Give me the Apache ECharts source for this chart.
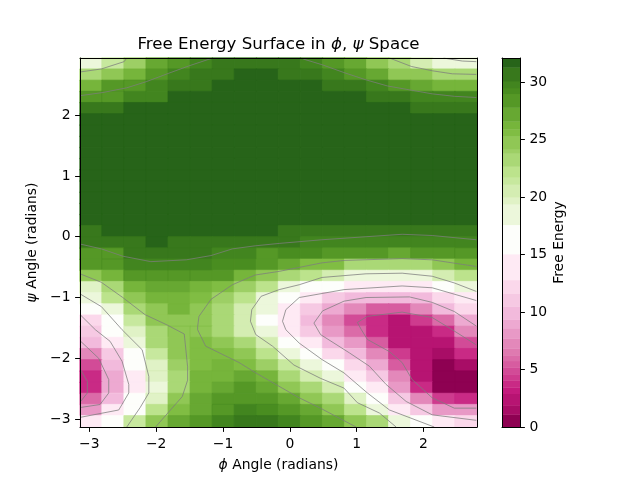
<!DOCTYPE html>
<html><head><meta charset="utf-8">
<style>html,body{margin:0;padding:0;background:#fff}#c{width:640px;height:480px}</style>
<script src="https://cdn.jsdelivr.net/npm/echarts@6/dist/echarts.min.js"></script>
</head><body><div id="c"></div>
<script>
// Free energy values, top row (psi high) first, left (phi low) to right
const row00=[19,21.5,24,27,29,30,30.5,30.5,31,30.7,29.8,28.5,27,24.5,23,20.5,19,19];
const row01=[23,24.5,26.5,28.5,29.8,30.7,30.7,32,32,30.7,30.7,29.8,28.5,27,25,24.3,23,23];
const row02=[26.5,28.5,29,29.8,30.7,30.7,32,32,32,32,32,30.7,30.7,29.8,28.5,27,26.5,26.5];
const row03=[29,29,30,30,32,32,32,32,32,32,32,32,32,30.7,30.7,29.8,29.8,29.8];
const row04=[30.7,30.7,32,32,32,32,32,32,32,32,32,32,32,32,32,30.7,30.7,30.7];
const row05=[32,32,32,32,32,32,32,32,32,32,32,32,32,32,32,32,32,32];
const row06=row05,row07=row05,row08=row05,row09=row05,row10=row05,row11=row05,row12=row05,row13=row05,row14=row05;
const row15=[30.7,32,32,32,32,32,32,32,32,30.7,30.7,30.7,30.7,30.7,30.7,30.7,30.7,30.7];
const row16=[30.7,30.7,30.7,32,30.7,30.7,30.7,30.7,30.7,30.7,30,30,30,29.8,29.8,29.8,30,29.8];
const row17=[29,29,30.4,30.4,30.4,30.4,30,30,29,29.2,29.2,28,28,28,27.2,28,28,29];
const row18=[28,29,30,30,30,30,29.3,29.3,28,27.5,25.5,25.5,23.5,23.5,23.5,23.5,25,26.5];
const row19=[25,26.5,29,29,29,29,28,26.5,25,23.5,22,20.5,19,19,19,19,20.5,22];
const row20=[20,23.5,26.5,27.5,27.5,26.5,25.8,24,22,19,16,16,14,14,14,14,16,19];
const row21=[18.5,22,25,26.5,26.5,25.5,24,22,19,16,14,11.5,10.5,9.5,9.5,10.5,12,14];
const row22=[16,19,23.5,25,26.5,25,23.5,20.5,19,14,11.5,9,7.5,5.5,5.5,7.5,9.5,12];
const row23=[12.5,16,21.5,25,25,25,23.5,20.5,16,14,10.5,7.5,5,3.7,2.5,4.5,6,9];
const row24=[11,16,20,23.5,25.3,25.3,23.5,20.5,18.5,14,11.5,8.5,6,4,2.5,2.5,4,7.5];
const row25=[9.5,14,19,23,25,25.8,25,23.5,20.5,16,14,10,8.5,5.5,2.7,2.5,2.5,5];
const row26=[7.3,11,16,21.5,25,25.8,25.8,25,22.3,19,16,12.5,10.5,7,4.5,2.5,1.5,3.7];
const row27=[5,10.5,16,20,24,25.8,26.3,25.8,24,21.5,19,16,12.5,9,5.5,2.5,0.6,1.5];
const row28=[3.7,9,14,20,23.5,26,26.3,27.5,26.3,23.5,20.5,19,14,11,7,2.7,0.6,0.6];
const row29=[3.5,9,14,19,23.5,26,27.5,28,27.5,25,23.5,21,16,14,8.5,3.5,0.6,0.6];
const row30=[6,10.5,16,20,25,26.8,28,28.5,28.5,27.5,25,23.5,20,16,11,7.5,4.5,3.7];
const row31=[8.3,14,16,22,25.5,27.5,29,30,29.5,28.5,27.5,25,22.3,18.5,14,11,8.5,8];
const row32=[14,16,21.5,25,27.5,28.5,30,30.2,30.2,30,28.5,27.5,25,23,18.5,16,14,12.5];
const rowsTopDown=[row00,row01,row02,row03,row04,row05,row06,row07,row08,row09,row10,row11,row12,row13,row14,row15,row16,row17,row18,row19,row20,row21,row22,row23,row24,row25,row26,row27,row28,row29,row30,row31,row32];

// Colour-bar level boundaries
const levelEdges=[0,1.1,1.9,2.9,3.45,4.05,4.6,5.2,5.75,6.25,6.85,7.7,8.6,9.35,10.5,11.6,12.8,15.05,17.6,19.4,20,21.1,21.75,22.67,23.8,24.2,25.3,25.9,26.6,27.8,29,29.5,30.1,31.3,32.1];
const cmapStops=['#8e0152','#c51b7d','#de77ae','#f1b6da','#fde0ef','#ffffff','#e6f5d0','#b8e186','#7fbc41','#4d9221','#276419'];

// Contour polylines as [phi, psi]
const contour01=[[-3.14,2.71],[-2.82,2.76],[-2.48,2.88],[-2.44,2.94]];
const contour02=[[-3.14,2.32],[-2.81,2.37],[-2.44,2.45],[-2.15,2.55],[-1.81,2.69],[-1.51,2.81],[-1.21,2.92],[-1.15,2.94]];
const contour03=[[0.18,2.94],[0.21,2.92],[0.48,2.83],[0.81,2.70],[1.14,2.58],[1.46,2.48],[1.82,2.41],[2.13,2.35],[2.46,2.31],[2.79,2.29]];
const contour04=[[1.49,2.94],[1.82,2.80],[2.13,2.73],[2.43,2.68],[2.79,2.67]];
const contour05=[[2.30,2.94],[2.35,2.93],[2.58,2.89],[2.79,2.88]];
const contour06=[[-3.14,-0.12],[-2.82,-0.20],[-2.50,-0.32],[-2.08,-0.41],[-1.55,-0.38],[-1.18,-0.31],[-0.86,-0.20],[-0.52,-0.15],[-0.16,-0.11],[0.48,-0.05],[1.14,0.00],[1.68,0.04],[2.13,0.02],[2.79,-0.05]];
const contour07=[[-3.14,-0.61],[-2.82,-0.75],[-2.50,-1.00],[-2.17,-1.28],[-1.84,-1.45],[-1.58,-1.60],[-1.53,-2.14],[-1.53,-2.36],[-1.61,-2.63],[-2.01,-3.13]];
const contour08=[[-3.14,-0.94],[-2.82,-1.15],[-2.51,-1.53],[-2.21,-1.86],[-2.11,-2.30],[-2.11,-2.57],[-2.24,-2.81],[-2.44,-3.13]];
const contour09=[[-3.14,-1.28],[-2.91,-1.53],[-2.69,-1.72],[-2.51,-2.05],[-2.41,-2.43],[-2.41,-2.57],[-2.56,-2.85],[-3.13,-2.97]];
const contour10=[[-3.13,-1.72],[-2.86,-2.00],[-2.71,-2.35],[-2.71,-2.57],[-2.84,-2.76],[-3.14,-2.81]];
const contour11=[[-3.13,-2.19],[-3.03,-2.38],[-3.03,-2.57],[-3.13,-2.71]];
const contour12=[[2.79,-0.49],[2.13,-0.38],[1.68,-0.36],[0.81,-0.39],[0.48,-0.43],[-0.16,-0.57],[-0.52,-0.63],[-0.86,-0.79],[-1.18,-1.03],[-1.36,-1.31],[-1.38,-1.48],[-1.38,-1.53],[-1.26,-1.80],[-0.76,-2.07],[-0.51,-2.24],[-0.21,-2.43],[0.14,-2.65],[0.44,-2.81],[0.99,-3.13]];
const contour13=[[2.79,-0.90],[2.46,-0.76],[2.13,-0.65],[1.68,-0.60],[1.14,-0.61],[0.48,-0.67],[0.14,-0.79],[-0.16,-0.87],[-0.43,-0.98],[-0.57,-1.20],[-0.59,-1.39],[-0.51,-1.61],[-0.26,-1.80],[0.06,-2.11],[0.46,-2.33],[0.81,-2.49],[1.01,-2.73],[1.34,-2.90],[1.59,-3.13]];
const contour14=[[2.79,-1.05],[2.13,-0.84],[1.68,-0.81],[0.81,-0.87],[0.14,-1.00],[-0.06,-1.20],[-0.11,-1.39],[-0.06,-1.53],[0.14,-1.75],[0.48,-2.02],[0.81,-2.24],[1.16,-2.57],[1.49,-2.85],[2.16,-3.13]];
const contour15=[[2.79,-1.47],[2.46,-1.23],[2.13,-1.08],[1.79,-0.99],[1.14,-1.00],[0.81,-1.06],[0.49,-1.22],[0.36,-1.42],[0.46,-1.61],[0.89,-1.91],[1.19,-2.13],[1.44,-2.43],[1.74,-2.71],[2.13,-2.93],[2.79,-3.02]];
const contour16=[[2.79,-1.78],[2.43,-1.53],[2.13,-1.33],[1.68,-1.24],[1.16,-1.31],[1.01,-1.41],[1.07,-1.53],[1.16,-1.69],[1.49,-1.89],[1.68,-2.07],[1.83,-2.35],[2.13,-2.65],[2.46,-2.82],[2.79,-2.82]];
const contours=[contour01,contour02,contour03,contour04,contour05,contour06,contour07,contour08,contour09,contour10,contour11,contour12,contour13,contour14,contour15,contour16];

const xTicks=[-3,-2,-1,0,1,2];
const yTicks=[-3,-2,-1,0,1,2];
const cbTicks=[0,5,10,15,20,25,30];
const phiMin=-3.14,phiMax=2.80,psiMin=-3.13,psiMax=2.94,energyMax=32.1;

const hex=h=>[1,3,5].map(i=>parseInt(h.substr(i,2),16));
function cmap(t){
  const p=Math.max(0,Math.min(1,t))*(cmapStops.length-1),i=Math.min(Math.floor(p),cmapStops.length-2),f=p-i;
  const a=hex(cmapStops[i]),b=hex(cmapStops[i+1]);
  return 'rgb('+a.map((v,k)=>Math.round(v+(b[k]-v)*f)).join(',')+')';
}
const levels=[];
for(let i=0;i<levelEdges.length-1;i++){
  const lo=levelEdges[i],hi=levelEdges[i+1];
  levels.push({lo,hi,color:cmap((i===0?0:i===levelEdges.length-2?energyMax:(lo+hi)/2)/energyMax)});
}
const colorOf=v=>(levels.find(l=>v>=l.lo&&v<l.hi)||levels[levels.length-1]).color;
const nR=rowsTopDown.length;
const cells=[];
rowsTopDown.forEach((row,r)=>row.forEach((v,c)=>cells.push({value:[c,nR-1-r,v],itemStyle:{borderColor:colorOf(v),borderWidth:0.7}})));
const fmt=v=>String(v).replace('-','\u2212');
const FONT='"DejaVu Sans"';
const tickLine={show:true,length:4.9,lineStyle:{color:'#000',width:1}};
const label={color:'#000',fontFamily:FONT,fontSize:13.9,formatter:fmt,margin:9.5};
const labelY={...label,padding:[2,0,0,0]};
const frame={show:true,onZero:false,lineStyle:{color:'#000',width:1}};
const nameStyle={color:'#000',fontFamily:FONT,fontSize:13.9,rich:{i:{fontStyle:'italic',fontFamily:FONT,fontSize:13.9,color:'#000'}}};
const bare={show:false};
const Z=20;

const chart=echarts.init(document.getElementById('c'),null,{renderer:'canvas'});
chart.setOption({
  animation:false,backgroundColor:'#fff',
  title:{text:'Free Energy Surface in {i|\u03d5}, {i|\u03c8} Space',left:273.5,top:31,textAlign:'center',
    textStyle:{color:'#000',fontFamily:FONT,fontSize:16.67,fontWeight:'normal',rich:{i:{fontStyle:'italic',fontFamily:FONT,fontSize:16.67,color:'#000'}}}},
  grid:[{left:80,top:58,width:397,height:369},{left:502,top:58,width:18,height:369}],
  xAxis:[
    {gridIndex:0,type:'category',position:'top',z:Z,data:rowsTopDown[0].map((_,i)=>i),axisLine:frame,axisTick:bare,axisLabel:bare,splitLine:bare},
    {gridIndex:0,type:'value',position:'bottom',z:Z,min:phiMin,max:phiMax,axisLine:frame,splitLine:bare,
      axisTick:{...tickLine,customValues:xTicks},axisLabel:{...label,margin:10.5,customValues:xTicks},
      name:'{i|\u03d5} Angle (radians)',nameLocation:'middle',nameGap:31,nameTextStyle:nameStyle},
    {gridIndex:1,type:'value',position:'bottom',z:Z,min:0,max:1,axisLine:frame,axisTick:bare,axisLabel:bare,splitLine:bare},
    {gridIndex:1,type:'value',position:'top',z:Z,min:0,max:1,axisLine:frame,axisTick:bare,axisLabel:bare,splitLine:bare}
  ],
  yAxis:[
    {gridIndex:0,type:'category',position:'right',z:Z,data:rowsTopDown.map((_,i)=>i),axisLine:frame,axisTick:bare,axisLabel:bare,splitLine:bare},
    {gridIndex:0,type:'value',position:'left',z:Z,min:psiMin,max:psiMax,axisLine:frame,splitLine:bare,
      axisTick:{...tickLine,customValues:yTicks},axisLabel:{...labelY,customValues:yTicks},
      name:'{i|\u03c8} Angle (radians)',nameLocation:'middle',nameGap:39,nameRotate:90,nameTextStyle:nameStyle},
    {gridIndex:1,type:'value',position:'right',z:Z,min:0,max:energyMax,axisLine:frame,splitLine:bare,
      axisTick:{...tickLine,customValues:cbTicks},axisLabel:{...labelY,customValues:cbTicks},
      name:'Free Energy',nameLocation:'middle',nameGap:32,nameRotate:90,nameTextStyle:nameStyle},
    {gridIndex:1,type:'value',position:'left',z:Z,min:0,max:energyMax,axisLine:frame,axisTick:bare,axisLabel:bare,splitLine:bare}
  ],
  visualMap:{type:'piecewise',show:false,seriesIndex:0,dimension:2,
    pieces:levels.map(l=>({min:l.lo,max:l.hi,color:l.color}))},
  series:[
    {type:'heatmap',xAxisIndex:0,yAxisIndex:0,data:cells,silent:true,progressive:0},
    ...contours.map(pts=>({type:'line',xAxisIndex:1,yAxisIndex:1,data:pts,showSymbol:false,symbol:'none',silent:true,z:5,
      lineStyle:{color:'rgba(125,125,125,0.85)',width:0.9}})),
    {type:'custom',xAxisIndex:2,yAxisIndex:2,silent:true,z:2,data:levels.map(l=>[l.lo,l.hi]),
      encode:{y:[0,1]},clip:false,
      renderItem(params,api){
        const a=api.coord([0,api.value(0)]),b=api.coord([1,api.value(1)]);
        return {type:'rect',shape:{x:a[0],y:b[1],width:b[0]-a[0],height:a[1]-b[1]+0.4},style:{fill:levels[params.dataIndex].color}};
      }}
  ]
});
</script></body></html>
